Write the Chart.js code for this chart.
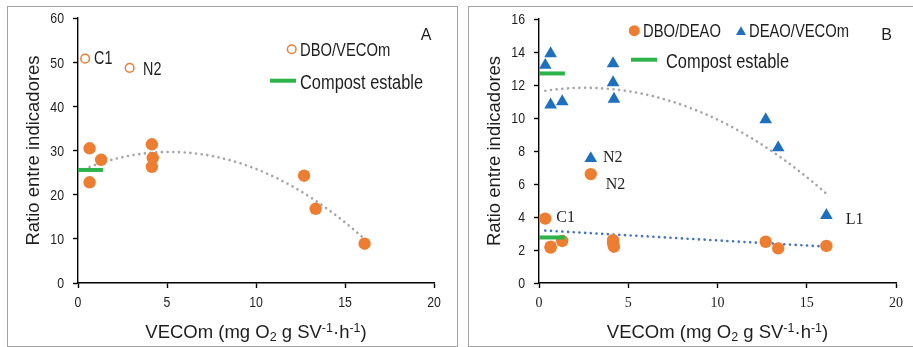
<!DOCTYPE html>
<html>
<head>
<meta charset="utf-8">
<script src="https://cdn.jsdelivr.net/npm/chart.js@4.4.1/dist/chart.umd.min.js"></script>
<style>
  body { margin: 0; background: #fff; width: 913px; height: 347px; overflow: hidden; position: relative; }
  .panel { position: absolute; top: 6px; border: 1px solid #a3a3a3; background: #fff; }
  #panelA { left: 7px; width: 449px; height: 339px; }
  #panelB { left: 468px; width: 460px; height: 339px; }
  canvas { display: block; }
</style>
</head>
<body>
<div class="panel" id="panelA"><canvas id="chartA" width="449" height="339"></canvas></div>
<div class="panel" id="panelB"><canvas id="chartB" width="460" height="339"></canvas></div>
<script>
// --- Panel A: DBO/VECOm vs VECOm ---
const vecomA = [0.65, 1.3, 0.65, 4.15, 4.2, 4.15, 12.7, 13.35, 16.1];
const dboVecom = [30.5, 27.9, 22.8, 31.4, 28.3, 26.3, 24.3, 16.8, 8.9];
const outlierVecomA = [0.4, 2.9];
const outlierDboVecom = [50.8, 48.7];
const outlierNamesA = ["C1", "N2"];
const compostXA = [0, 1.4];
const compostDboVecom = 25.6;

// --- Panel B: DBO/DEAO and DEAO/VECOm vs VECOm ---
const vecomB = [0.35, 0.65, 0.65, 1.3, 2.9, 4.15, 4.15, 4.2, 12.7, 13.4, 16.1];
const dboDeao = [3.9, 2.15, 2.2, 2.55, 6.6, 2.6, 2.4, 2.2, 2.5, 2.1, 2.25];
const deaoVecom = [13.2, 13.9, 10.8, 11.0, 7.55, 13.3, 12.15, 11.15, 9.9, 8.2, 4.1];
const namesDboDeao = ["C1", "", "", "", "N2", "", "", "", "", "", ""];
const namesDeaoVecom = ["", "", "", "", "N2", "", "", "", "", "", "L1"];
const compostXB = [0, 1.45];
const compostDboDeao = 2.76;
const compostDeaoVecom = 12.7;

const xTicks = [0, 5, 10, 15, 20];
const yTicksA = [0, 10, 20, 30, 40, 50, 60];
const yTicksB = [0, 2, 4, 6, 8, 10, 12, 14, 16];

const ORANGE = '#ED7D31';
const BLUE = '#1F6FBF';
const GREEN = '#2DB34A';
const GREY = '#A6A6A6';
const DOT_BLUE = '#4472C4';
const INK = '#1e1e1e';
const SANS = '"Liberation Sans", Arial, sans-serif';
const SERIF = '"Liberation Serif", "Times New Roman", serif';
const NARROW = 0.82; // squeeze factor to get an Arial Narrow look

const pts = (xs, ys) => xs.map((x, i) => ({ x, y: ys[i] }));

// least squares polynomial, same as a spreadsheet trendline
function polyFit(xs, ys, deg) {
  const n = deg + 1;
  const m = Array.from({ length: n }, () => new Array(n + 1).fill(0));
  xs.forEach((x, k) => {
    for (let i = 0; i < n; i++) {
      for (let j = 0; j < n; j++) m[i][j] += Math.pow(x, i + j);
      m[i][n] += ys[k] * Math.pow(x, i);
    }
  });
  for (let i = 0; i < n; i++) {
    let p = i;
    for (let r = i + 1; r < n; r++) if (Math.abs(m[r][i]) > Math.abs(m[p][i])) p = r;
    [m[i], m[p]] = [m[p], m[i]];
    for (let r = 0; r < n; r++) {
      if (r === i) continue;
      const f = m[r][i] / m[i][i];
      for (let c = i; c <= n; c++) m[r][c] -= f * m[i][c];
    }
  }
  return m.map((row, i) => row[n] / row[i]);
}

function trend(xs, ys, deg) {
  const c = polyFit(xs, ys, deg);
  const lo = Math.min(...xs), hi = Math.max(...xs);
  const out = [];
  for (let i = 0; i <= 60; i++) {
    const x = lo + (hi - lo) * i / 60;
    out.push({ x, y: c.reduce((s, a, p) => s + a * Math.pow(x, p), 0) });
  }
  return out;
}

function flat(xs, y) {
  return xs.map(x => ({ x, y }));
}

function dotted(data, color) {
  return {
    data, showLine: true, pointRadius: 0, borderColor: color, borderWidth: 2.6,
    borderDash: [0.1, 5.6], borderCapStyle: 'round', fill: false, order: 3
  };
}

function bar(data) {
  return { data, showLine: true, pointRadius: 0, borderColor: GREEN, borderWidth: 4, order: 0 };
}

// tick labels are painted by the annotate plugins, the axes only keep lines and tick marks
function scales(yMax) {
  const axisLine = { color: '#000', width: 1.4 };
  const grid = { drawOnChartArea: false, drawTicks: true, tickLength: 5, color: '#000', tickWidth: 1.4 };
  const hidden = { color: 'rgba(0,0,0,0)', font: { size: 12 } };
  return {
    x: {
      type: 'linear', min: 0, max: 20,
      afterFit: s => { s.height = 63; },
      afterBuildTicks: s => { s.ticks = xTicks.map(v => ({ value: v })); },
      ticks: hidden, grid, border: axisLine
    },
    y: {
      type: 'linear', min: 0, max: yMax,
      afterFit: s => { s.width = 70; },
      afterBuildTicks: s => { s.ticks = (yMax === 60 ? yTicksA : yTicksB).map(v => ({ value: v })); },
      ticks: hidden, grid, border: axisLine
    }
  };
}

function text(ctx, str, x, y, size, family, align, sx) {
  ctx.save();
  ctx.translate(x, y);
  ctx.scale(sx || 1, 1);
  ctx.font = size + 'px ' + family;
  ctx.fillStyle = INK;
  ctx.textAlign = align || 'left';
  ctx.textBaseline = 'alphabetic';
  ctx.fillText(str, 0, 0);
  ctx.restore();
}

function tickLabels(chart, xFamily, xSize, xSx, xDrop) {
  const ctx = chart.ctx, a = chart.chartArea;
  const sx = chart.scales.x, sy = chart.scales.y;
  xTicks.forEach(v => text(ctx, String(v), sx.getPixelForValue(v), a.bottom + xDrop, xSize, xFamily, 'center', xSx));
  sy.ticks.forEach(t => text(ctx, String(t.value), a.left - 14, sy.getPixelForValue(t.value) + 5.4, 15, SANS, 'right', NARROW));
}

// axis titles with sub/superscripts
function axisTitles(ctx, area) {
  const size = 18.5, small = 12.5;
  const parts = [['VECOm (mg O', 0], ['2', 3], [' g SV', 0], ['-1', -6], ['\u00b7h', 0], ['-1', -6], [')', 0]];
  ctx.save();
  ctx.fillStyle = INK;
  ctx.textBaseline = 'alphabetic';
  let w = 0;
  parts.forEach(([t, d]) => { ctx.font = (d ? small : size) + 'px ' + SANS; w += ctx.measureText(t).width; });
  let x = (area.left + area.right) / 2 - w / 2;
  const base = area.bottom + 55;
  parts.forEach(([t, d]) => {
    ctx.font = (d ? small : size) + 'px ' + SANS;
    ctx.fillText(t, x, base + d);
    x += ctx.measureText(t).width;
  });
  ctx.translate(area.left - 39, (area.top + area.bottom) / 2);
  ctx.rotate(-Math.PI / 2);
  ctx.font = size + 'px ' + SANS;
  ctx.textAlign = 'center';
  ctx.fillText('Ratio entre indicadores', 0, 0);
  ctx.restore();
}

function marker(ctx, style, x, y, r, fill, stroke) {
  ctx.save();
  ctx.beginPath();
  if (style === 'triangle') {
    for (let k = 0; k < 3; k++) {
      const a = k * 2 * Math.PI / 3;
      const px = x + Math.sin(a) * r, py = y - Math.cos(a) * r;
      k ? ctx.lineTo(px, py) : ctx.moveTo(px, py);
    }
    ctx.closePath();
  } else {
    ctx.arc(x, y, r, 0, 2 * Math.PI);
  }
  ctx.fillStyle = fill;
  ctx.fill();
  if (stroke) { ctx.lineWidth = 1.5; ctx.strokeStyle = stroke; ctx.stroke(); }
  ctx.restore();
}

function greenSample(ctx, x0, x1, y) {
  ctx.save();
  ctx.strokeStyle = GREEN;
  ctx.lineWidth = 4;
  ctx.beginPath();
  ctx.moveTo(x0, y);
  ctx.lineTo(x1, y);
  ctx.stroke();
  ctx.restore();
}

function pointNames(chart, dsIndex, names, size, family, sx, offsets) {
  const meta = chart.getDatasetMeta(dsIndex);
  names.forEach((n, i) => {
    if (!n) return;
    const el = meta.data[i];
    const [dx, dy] = offsets[n];
    text(chart.ctx, n, el.x + dx, el.y + dy, size, family, 'left', sx);
  });
}

const annotateA = {
  id: 'annotateA',
  afterDraw(chart) {
    const ctx = chart.ctx, a = chart.chartArea;
    tickLabels(chart, SANS, 15, NARROW, 24);
    axisTitles(ctx, a);
    pointNames(chart, 2, outlierNamesA, 17.5, SANS, NARROW, { C1: [9, 5.7], N2: [13.5, 7] });
    marker(ctx, 'circle', a.left + 213.7, a.top + 31.3, 4.3, '#fff', ORANGE);
    text(ctx, 'DBO/VECOm', a.left + 222, a.top + 38, 18, SANS, 'left', NARROW);
    greenSample(ctx, a.left + 192, a.left + 218, a.top + 62.7);
    text(ctx, 'Compost estable', a.left + 222, a.top + 71.3, 20, SANS, 'left', NARROW);
    text(ctx, 'A', a.left + 348, a.top + 22, 16, SANS, 'center');
  }
};

const annotateB = {
  id: 'annotateB',
  afterDraw(chart) {
    const ctx = chart.ctx, a = chart.chartArea;
    tickLabels(chart, SERIF, 14, 1, 23.6);
    axisTitles(ctx, a);
    pointNames(chart, 3, namesDboDeao, 16, SERIF, 1, { C1: [11, 3.2], N2: [15, 15] });
    pointNames(chart, 4, namesDeaoVecom, 16, SERIF, 1, { N2: [12.3, 3.9], L1: [19.3, 9] });
    marker(ctx, 'circle', a.left + 95.3, a.top + 11.7, 5.5, ORANGE);
    text(ctx, 'DBO/DEAO', a.left + 104, a.top + 18, 18, SANS, 'left', NARROW);
    marker(ctx, 'triangle', a.left + 202, a.top + 13, 5.8, BLUE);
    text(ctx, 'DEAO/VECOm', a.left + 210, a.top + 18, 18, SANS, 'left', NARROW);
    greenSample(ctx, a.left + 92, a.left + 118, a.top + 40.7);
    text(ctx, 'Compost estable', a.left + 127, a.top + 49, 20, SANS, 'left', NARROW);
    text(ctx, 'B', a.left + 347.7, a.top + 20.7, 16, SANS, 'center');
  }
};

const common = {
  responsive: false,
  animation: false,
  events: [],
  plugins: { legend: { display: false }, tooltip: { enabled: false } }
};

new Chart(document.getElementById('chartA'), {
  type: 'scatter',
  data: {
    datasets: [
      bar(flat(compostXA, compostDboVecom)),
      { data: pts(vecomA, dboVecom), pointRadius: 6.2, backgroundColor: ORANGE, borderWidth: 0, order: 1 },
      { data: pts(outlierVecomA, outlierDboVecom), pointRadius: 4.3, backgroundColor: '#fff', borderColor: ORANGE, borderWidth: 1.5, order: 1 },
      dotted(trend(vecomA, dboVecom, 2), GREY)
    ]
  },
  options: Object.assign({}, common, {
    layout: { padding: { left: 0, right: 23, top: 11, bottom: 0 } },
    scales: scales(60)
  }),
  plugins: [annotateA]
});

new Chart(document.getElementById('chartB'), {
  type: 'scatter',
  data: {
    datasets: [
      bar(flat(compostXB, compostDeaoVecom)),
      bar(flat(compostXB, compostDboDeao)),
      dotted(trend(vecomB, dboDeao, 1), DOT_BLUE),
      { data: pts(vecomB, dboDeao), pointRadius: 6.2, backgroundColor: ORANGE, borderWidth: 0, order: 1 },
      { data: pts(vecomB, deaoVecom), pointStyle: 'triangle', pointRadius: 7.3, backgroundColor: BLUE, borderWidth: 0, order: 1 },
      dotted(trend(vecomB, deaoVecom, 2), GREY)
    ]
  },
  options: Object.assign({}, common, {
    layout: { padding: { left: 0, right: 33, top: 12, bottom: 0 } },
    scales: scales(16)
  }),
  plugins: [annotateB]
});
</script>
</body>
</html>
